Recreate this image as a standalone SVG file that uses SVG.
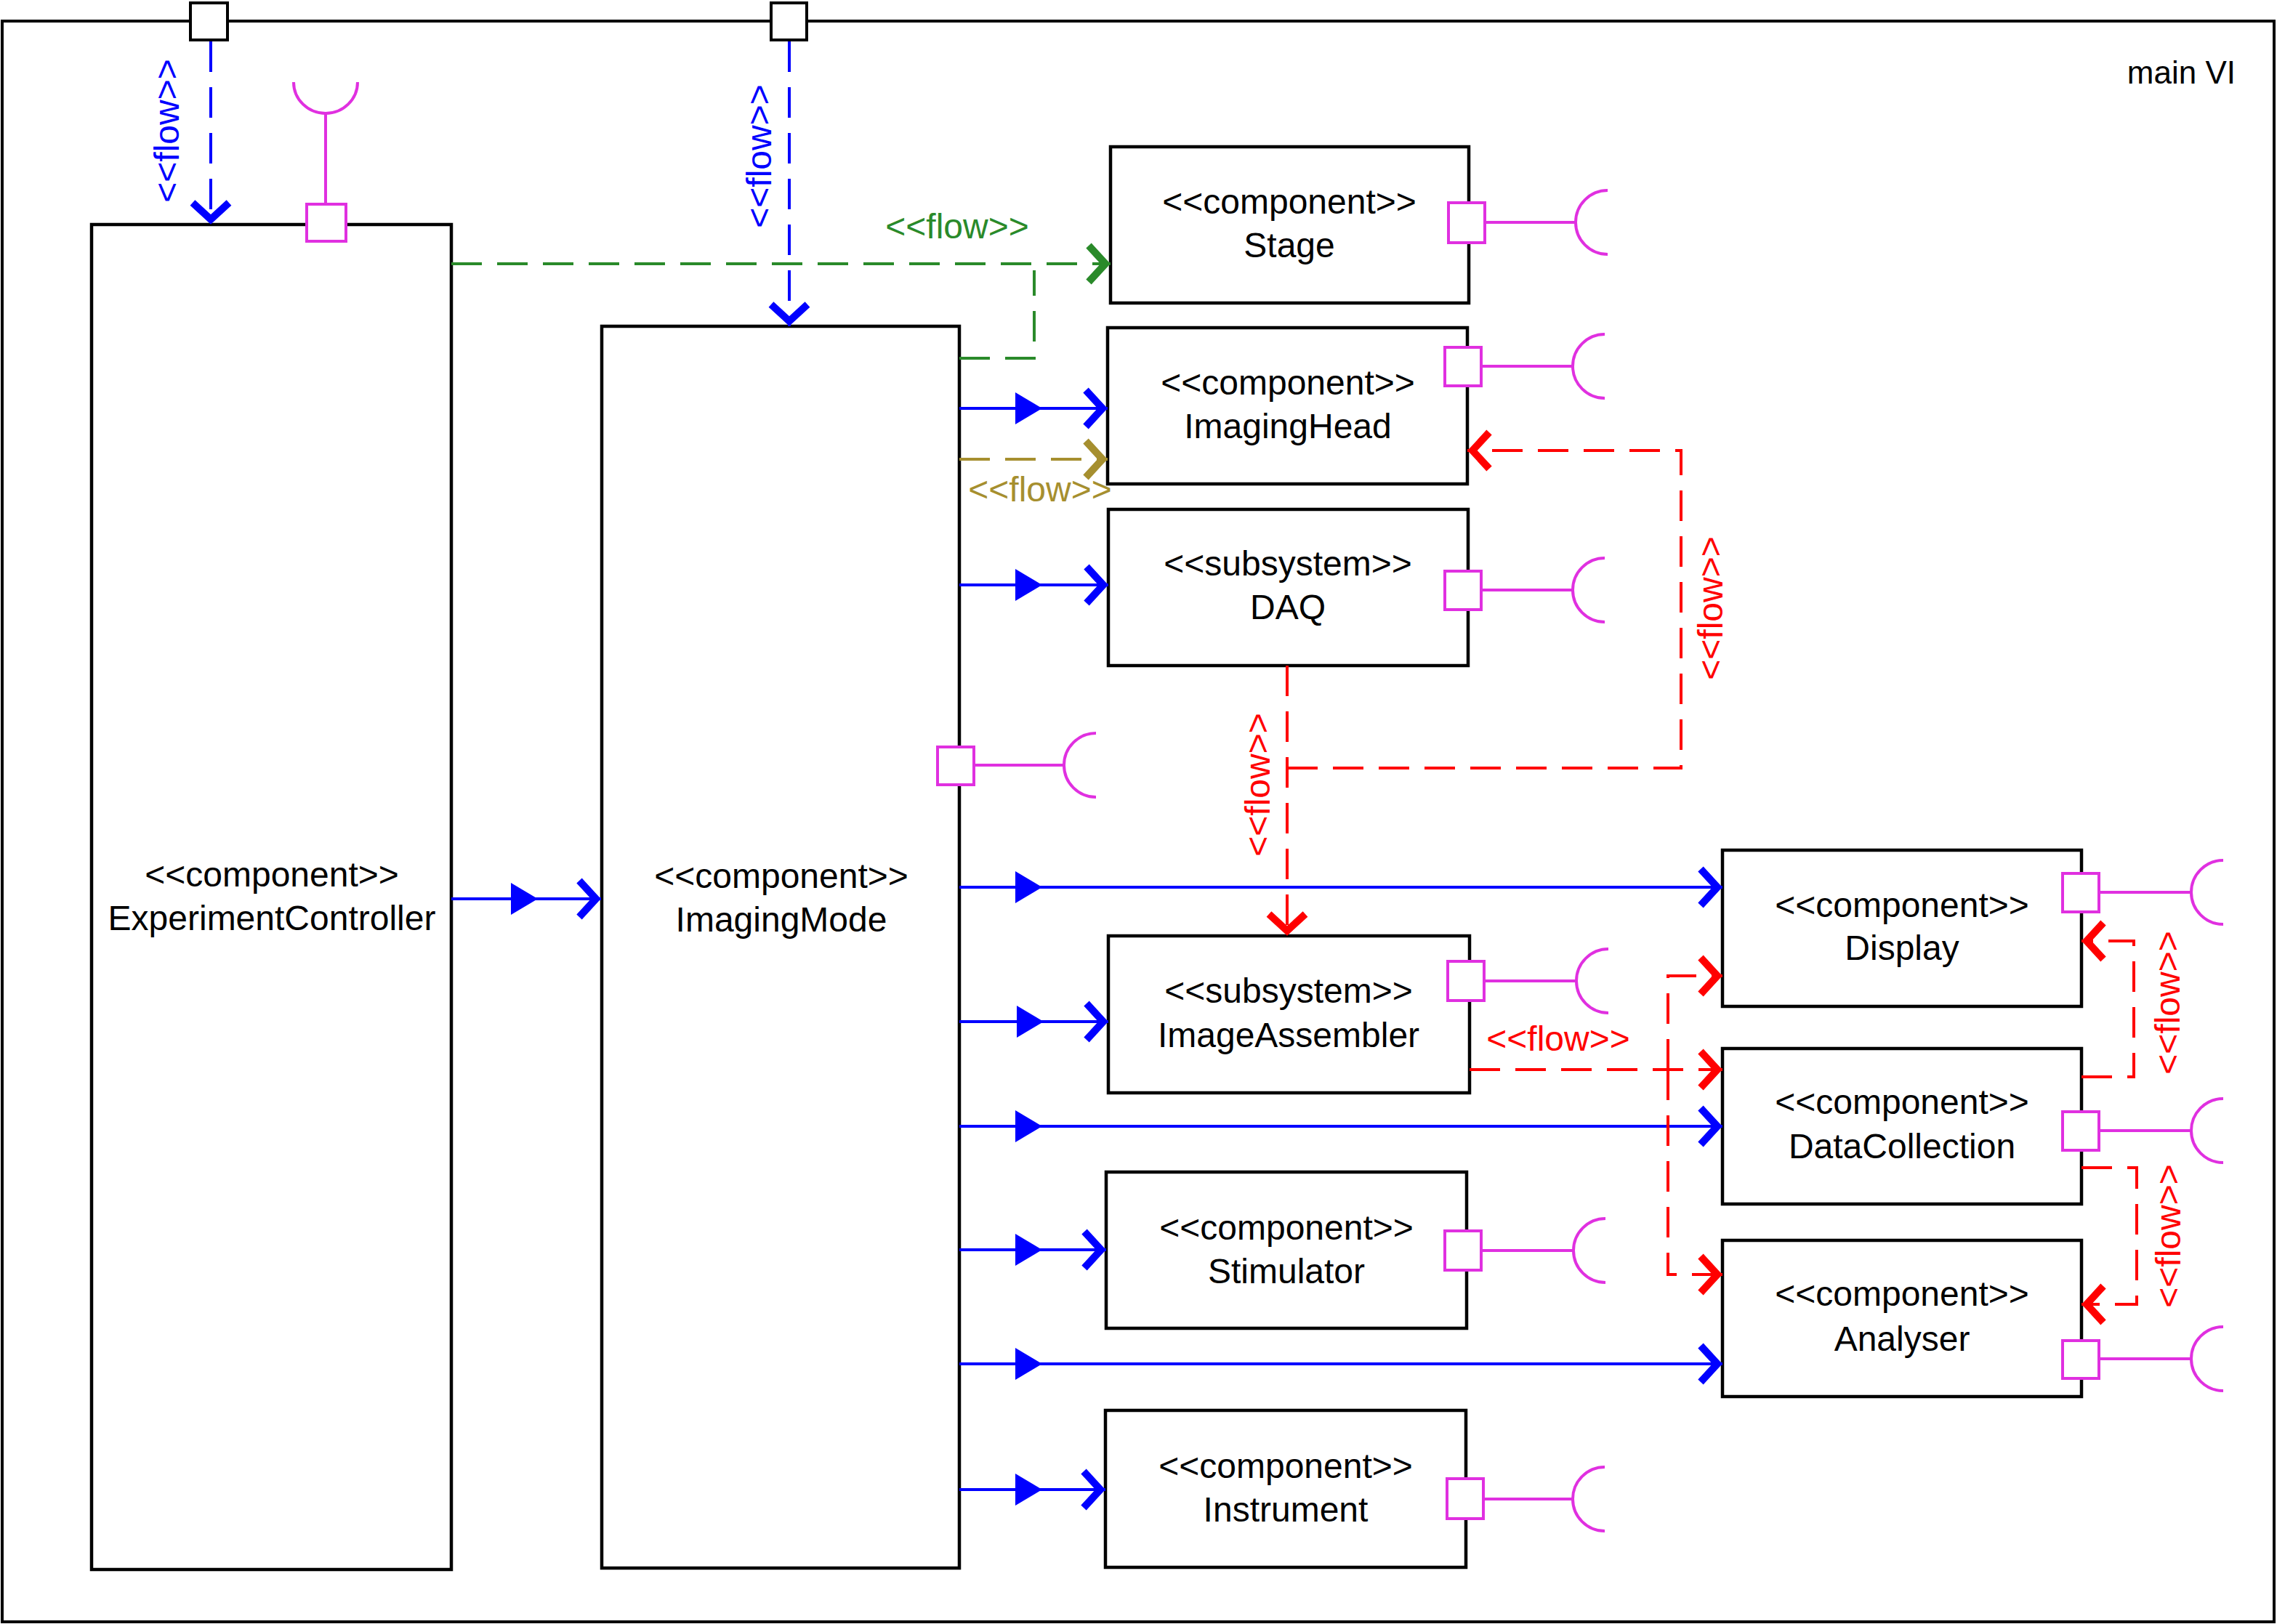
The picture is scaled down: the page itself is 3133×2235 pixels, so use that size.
<svg xmlns="http://www.w3.org/2000/svg" width="3133" height="2235" viewBox="0 0 3133 2235">
<style>
text{font-family:"Liberation Sans",Arial,sans-serif;font-size:48px}
.box{fill:#fff;stroke:#000;stroke-width:4.5}
.nt{text-anchor:middle;fill:#000}
.port{fill:#fff;stroke:#e030e0;stroke-width:4}
.sock{fill:none;stroke:#e030e0;stroke-width:4}
.bl{fill:none;stroke:#0000ff;stroke-width:4;marker-mid:url(#tri);marker-end:url(#cb)}
.dash{fill:none;stroke-width:4;stroke-dasharray:42 21}
.lb{text-anchor:middle}
</style>
<defs>
<marker id="cb" markerUnits="userSpaceOnUse" orient="auto" viewBox="-50 -30 60 60" markerWidth="60" markerHeight="60" refX="0" refY="0"><polyline points="-30,-25 -7,0 -30,25" fill="none" stroke="#0000ff" stroke-width="10"/></marker>
<marker id="cg" markerUnits="userSpaceOnUse" orient="auto" viewBox="-50 -30 60 60" markerWidth="60" markerHeight="60" refX="0" refY="0"><polyline points="-30,-25 -7,0 -30,25" fill="none" stroke="#2a8a2a" stroke-width="10"/></marker>
<marker id="co" markerUnits="userSpaceOnUse" orient="auto" viewBox="-50 -30 60 60" markerWidth="60" markerHeight="60" refX="0" refY="0"><polyline points="-30,-25 -7,0 -30,25" fill="none" stroke="#a68f2f" stroke-width="10"/></marker>
<marker id="cr" markerUnits="userSpaceOnUse" orient="auto" viewBox="-50 -30 60 60" markerWidth="60" markerHeight="60" refX="0" refY="0"><polyline points="-30,-25 -7,0 -30,25" fill="none" stroke="#ff0000" stroke-width="10"/></marker>
<marker id="tri" markerUnits="userSpaceOnUse" orient="auto" viewBox="-50 -30 60 60" markerWidth="60" markerHeight="60" refX="0" refY="0"><polygon points="0,0 -37,-22 -37,22" fill="#0000ff"/></marker>
</defs>

<g id="frame">
<rect x="3" y="29" width="3126" height="2203" fill="#fff" stroke="#000" stroke-width="4"/>
<text x="3076" y="115" style="font-size:44px;text-anchor:end">main VI</text>
<rect x="262" y="4" width="51" height="51" fill="#fff" stroke="#000" stroke-width="4"/>
<rect x="1061" y="4" width="49" height="51" fill="#fff" stroke="#000" stroke-width="4"/>
</g>

<g id="ExperimentController">
<rect class="box" x="126" y="309" width="495" height="1851"/>
<text class="nt" x="374" y="1220">&lt;&lt;component&gt;&gt;</text>
<text class="nt" x="374" y="1280">ExperimentController</text>
<line class="sock" x1="448" y1="281" x2="448" y2="155"/>
<path class="sock" d="M404,113 A44,43 0 0,0 492,113"/>
<rect class="port" x="422" y="281" width="54" height="51"/>
</g>

<g id="ImagingMode">
<rect class="box" x="828" y="449" width="492" height="1709"/>
<text class="nt" x="1075" y="1222">&lt;&lt;component&gt;&gt;</text>
<text class="nt" x="1075" y="1282">ImagingMode</text>
<line class="sock" x1="1340" y1="1053" x2="1464" y2="1053"/>
<path class="sock" d="M1508,1009 A44,44 0 0,0 1508,1097"/>
<rect class="port" x="1290" y="1028" width="50" height="52"/>
</g>

<g id="Stage">
<rect class="box" x="1528" y="202" width="493" height="215"/>
<text class="nt" x="1774" y="294">&lt;&lt;component&gt;&gt;</text>
<text class="nt" x="1774" y="354">Stage</text>
<line class="sock" x1="2044" y1="306" x2="2168" y2="306"/>
<path class="sock" d="M2212,262 A44,44 0 0,0 2212,350"/>
<rect class="port" x="1993" y="279" width="50" height="55"/>
</g>

<g id="ImagingHead">
<rect class="box" x="1524" y="451" width="495" height="215"/>
<text class="nt" x="1772" y="543">&lt;&lt;component&gt;&gt;</text>
<text class="nt" x="1772" y="603">ImagingHead</text>
<line class="sock" x1="2040" y1="504" x2="2164" y2="504"/>
<path class="sock" d="M2208,460 A44,44 0 0,0 2208,548"/>
<rect class="port" x="1988" y="478" width="50" height="53"/>
</g>

<g id="DAQ">
<rect class="box" x="1525" y="701" width="495" height="215"/>
<text class="nt" x="1772" y="792">&lt;&lt;subsystem&gt;&gt;</text>
<text class="nt" x="1772" y="852">DAQ</text>
<line class="sock" x1="2040" y1="812" x2="2164" y2="812"/>
<path class="sock" d="M2208,768 A44,44 0 0,0 2208,856"/>
<rect class="port" x="1988" y="786" width="50" height="53"/>
</g>

<g id="ImageAssembler">
<rect class="box" x="1525" y="1288" width="497" height="216"/>
<text class="nt" x="1773" y="1380">&lt;&lt;subsystem&gt;&gt;</text>
<text class="nt" x="1773" y="1441">ImageAssembler</text>
<line class="sock" x1="2044" y1="1350" x2="2169" y2="1350"/>
<path class="sock" d="M2213,1306 A44,44 0 0,0 2213,1394"/>
<rect class="port" x="1992" y="1323" width="50" height="54"/>
</g>

<g id="Stimulator">
<rect class="box" x="1522" y="1613" width="496" height="215"/>
<text class="nt" x="1770" y="1706">&lt;&lt;component&gt;&gt;</text>
<text class="nt" x="1770" y="1766">Stimulator</text>
<line class="sock" x1="2040" y1="1721" x2="2165" y2="1721"/>
<path class="sock" d="M2209,1677 A44,44 0 0,0 2209,1765"/>
<rect class="port" x="1988" y="1694" width="50" height="54"/>
</g>

<g id="Instrument">
<rect class="box" x="1521" y="1941" width="496" height="216"/>
<text class="nt" x="1769" y="2034">&lt;&lt;component&gt;&gt;</text>
<text class="nt" x="1769" y="2094">Instrument</text>
<line class="sock" x1="2040" y1="2063" x2="2164" y2="2063"/>
<path class="sock" d="M2208,2019 A44,44 0 0,0 2208,2107"/>
<rect class="port" x="1991" y="2035" width="50" height="55"/>
</g>

<g id="Display">
<rect class="box" x="2370" y="1170" width="494" height="215"/>
<text class="nt" x="2617" y="1262">&lt;&lt;component&gt;&gt;</text>
<text class="nt" x="2617" y="1321">Display</text>
<line class="sock" x1="2890" y1="1228" x2="3015" y2="1228"/>
<path class="sock" d="M3059,1184 A44,44 0 0,0 3059,1272"/>
<rect class="port" x="2838" y="1202" width="50" height="53"/>
</g>

<g id="DataCollection">
<rect class="box" x="2370" y="1443" width="494" height="214"/>
<text class="nt" x="2617" y="1533">&lt;&lt;component&gt;&gt;</text>
<text class="nt" x="2617" y="1594">DataCollection</text>
<line class="sock" x1="2890" y1="1556" x2="3015" y2="1556"/>
<path class="sock" d="M3059,1512 A44,44 0 0,0 3059,1600"/>
<rect class="port" x="2838" y="1530" width="50" height="53"/>
</g>

<g id="Analyser">
<rect class="box" x="2370" y="1707" width="494" height="215"/>
<text class="nt" x="2617" y="1797">&lt;&lt;component&gt;&gt;</text>
<text class="nt" x="2617" y="1859">Analyser</text>
<line class="sock" x1="2890" y1="1870" x2="3015" y2="1870"/>
<path class="sock" d="M3059,1826 A44,44 0 0,0 3059,1914"/>
<rect class="port" x="2838" y="1845" width="50" height="52"/>
</g>

<g id="connectors">
<!-- blue solid -->
<path class="bl" d="M621,1237 L740,1237 L827,1237"/>
<path class="bl" d="M1320,562 L1434,562 L1524,562"/>
<path class="bl" d="M1320,805 L1434,805 L1525,805"/>
<path class="bl" d="M1320,1221 L1434,1221 L2370,1221"/>
<path class="bl" d="M1320,1406 L1436,1406 L1525,1406"/>
<path class="bl" d="M1320,1550 L1434,1550 L2370,1550"/>
<path class="bl" d="M1320,1720 L1434,1720 L1522,1720"/>
<path class="bl" d="M1320,1877 L1434,1877 L2370,1877"/>
<path class="bl" d="M1320,2050 L1434,2050 L1521,2050"/>
<!-- blue dashed -->
<path class="dash" stroke="#0000ff" marker-end="url(#cb)" d="M290,57 L290,309"/>
<path class="dash" stroke="#0000ff" marker-end="url(#cb)" d="M1086,57 L1086,449"/>
<text class="lb" fill="#0000ff" transform="translate(246,180) rotate(-90)">&lt;&lt;flow&gt;&gt;</text>
<text class="lb" fill="#0000ff" transform="translate(1061,215) rotate(-90)">&lt;&lt;flow&gt;&gt;</text>
<!-- green -->
<path class="dash" stroke="#2a8a2a" marker-end="url(#cg)" d="M621,363 L1528,363"/>
<path class="dash" stroke="#2a8a2a" d="M1320,493 L1423,493 L1423,372"/>
<text class="lb" fill="#2a8a2a" x="1317" y="328">&lt;&lt;flow&gt;&gt;</text>
<!-- olive -->
<path class="dash" stroke="#a68f2f" marker-end="url(#co)" d="M1320,632 L1524,632"/>
<text class="lb" fill="#a68f2f" x="1431" y="690">&lt;&lt;flow&gt;&gt;</text>
<!-- red -->
<path class="dash" stroke="#ff0000" marker-end="url(#cr)" d="M1771,916 L1771,1288"/>
<path class="dash" stroke="#ff0000" marker-end="url(#cr)" d="M1771,1057 L2313,1057 L2313,620 L2019,620"/>
<text class="lb" fill="#ff0000" transform="translate(1747,1080) rotate(-90)">&lt;&lt;flow&gt;&gt;</text>
<text class="lb" fill="#ff0000" transform="translate(2370,837) rotate(-90)">&lt;&lt;flow&gt;&gt;</text>
<path class="dash" stroke="#ff0000" marker-end="url(#cr)" d="M2022,1472 L2370,1472"/>
<text class="lb" fill="#ff0000" x="2144" y="1446">&lt;&lt;flow&gt;&gt;</text>
<path class="dash" stroke="#ff0000" marker-end="url(#cr)" d="M2295,1472 L2295,1343 L2370,1343"/>
<path class="dash" stroke="#ff0000" marker-end="url(#cr)" d="M2295,1472 L2295,1754 L2370,1754"/>
<path class="dash" stroke="#ff0000" marker-end="url(#cr)" d="M2864,1482 L2936,1482 L2936,1295 L2864,1295"/>
<path class="dash" stroke="#ff0000" marker-end="url(#cr)" d="M2864,1607 L2940,1607 L2940,1795 L2864,1795"/>
<text class="lb" fill="#ff0000" transform="translate(2999,1380) rotate(-90)">&lt;&lt;flow&gt;&gt;</text>
<text class="lb" fill="#ff0000" transform="translate(3000,1701) rotate(-90)">&lt;&lt;flow&gt;&gt;</text>
</g>
</svg>
